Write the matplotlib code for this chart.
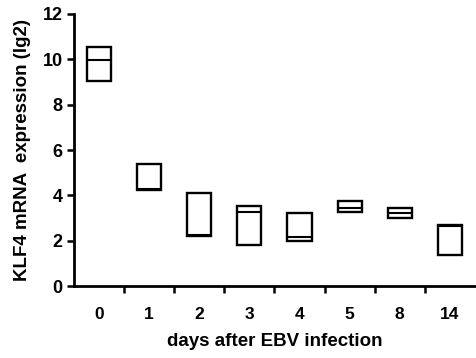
import numpy as np
import matplotlib.pyplot as plt

plt.rcParams['font.family'] = ['Liberation Sans', 'DejaVu Sans']
plt.rcParams['font.weight'] = 'bold'

# KLF4 表达量：每天的最小值、中位数、最大值
days = ['0', '1', '2', '3', '4', '5', '8', '14']
low = [9.03, 4.22, 2.22, 1.80, 1.98, 3.25, 3.00, 1.36]
med = [9.97, 4.27, 2.27, 3.28, 2.18, 3.45, 3.20, 2.63]
high = [10.54, 5.37, 4.09, 3.54, 3.21, 3.75, 3.45, 2.69]

fig = plt.figure(figsize=(4.76, 3.58), dpi=100)
ax = fig.add_axes([0.155, 0.201, 0.843, 0.760])

x = np.arange(len(days))
h = np.array(high) - np.array(low)
ax.bar(x, h, bottom=low, width=0.48, fill=False, edgecolor='black', linewidth=1.7)
ax.hlines(med, x - 0.24, x + 0.24, colors='black', linewidth=1.5)

ax.set_xlim(-0.5, 7.5)
ax.set_ylim(0, 12)
ax.set_yticks(np.arange(0, 13, 2))

# 标签放在格中间，刻度线放在格之间
ax.set_xticks(x)
ax.set_xticklabels(days)
ax.set_xticks(np.arange(0.5, 7.5, 1), minor=True)
ax.tick_params(axis='x', which='major', length=0, pad=15, labelsize=12.5)
ax.tick_params(axis='x', which='minor', length=5, width=1.8, direction='out')
ax.tick_params(axis='y', length=5, width=1.8, direction='out', labelsize=13, pad=3)

for s in ['top', 'right']:
    ax.spines[s].set_visible(False)
for s in ['left', 'bottom']:
    ax.spines[s].set_linewidth(2)

ax.set_ylabel('KLF4 mRNA  expression (lg2)', fontsize=13.5, fontweight='bold', labelpad=8)
ax.set_xlabel('days after EBV infection', fontsize=13.5, fontweight='bold', labelpad=8)

plt.savefig('out.png', dpi=100)
